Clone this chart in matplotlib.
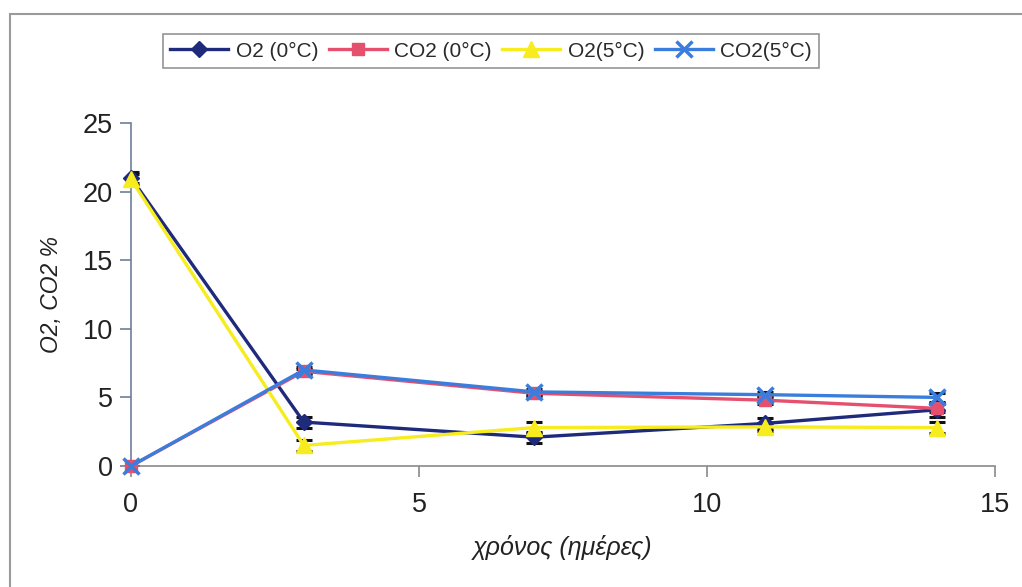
import numpy as np
import matplotlib.pyplot as plt
from matplotlib.patches import Rectangle

plt.rcParams['font.family'] = ['Liberation Sans', 'DejaVu Sans']

# ημέρες αποθήκευσης
days = [0, 3, 7, 11, 14]

# O2 και CO2 (%) στους 0 και 5 βαθμούς
o2_0 = [21.0, 3.2, 2.1, 3.1, 4.1]
co2_0 = [0.0, 6.9, 5.3, 4.8, 4.2]
o2_5 = [20.9, 1.5, 2.8, 2.85, 2.8]
co2_5 = [0.0, 7.0, 5.4, 5.2, 5.0]

# τυπικά σφάλματα
o2_0_err = [0.4, 0.4, 0.4, 0.4, 0.5]
co2_0_err = [0.0, 0.2, 0.2, 0.3, 0.3]
o2_5_err = [0.4, 0.4, 0.4, 0.3, 0.4]
co2_5_err = [0.0, 0.2, 0.2, 0.2, 0.3]

fig = plt.figure(figsize=(10.22, 5.87), dpi=100)
fig.patches.append(Rectangle((10 / 1022, -0.1), 1.2, 1.1 - 14 / 587,
                             transform=fig.transFigure, fill=False,
                             edgecolor='#9a9a9a', linewidth=1.5))

ax = fig.add_axes([131 / 1022, 121 / 587, 864 / 1022, 343 / 587])

series = [
    (o2_0, o2_0_err, '#1e2a7a', 'D', 8, 'O2 (0°C)'),
    (co2_0, co2_0_err, '#e5506f', 's', 9, 'CO2 (0°C)'),
    (o2_5, o2_5_err, '#f6ec1e', '^', 11, 'O2(5°C)'),
    (co2_5, co2_5_err, '#3a7ddc', 'x', 11, 'CO2(5°C)'),
]

handles = []
for vals, err, col, mk, ms, lab in series:
    ax.errorbar(days, vals, yerr=err, fmt='none', ecolor='#111111',
                elinewidth=1.2, capsize=6, capthick=2.2, zorder=2)
    h, = ax.plot(days, vals, color=col, marker=mk, markersize=ms,
                 linewidth=2.4, markeredgewidth=2.5 if mk == 'x' else 1,
                 markeredgecolor=col, label=lab, zorder=3, clip_on=False)
    handles.append(h)

ax.set_xlim(0, 15)
ax.set_ylim(0, 25)
ax.set_xticks([0, 5, 10, 15])
ax.set_yticks([0, 5, 10, 15, 20, 25])
for s in ['top', 'right']:
    ax.spines[s].set_visible(False)
ax.spines['left'].set_color('#6d7f99')
ax.spines['bottom'].set_color('#8a8a8a')
ax.spines['left'].set_linewidth(1.2)
ax.spines['bottom'].set_linewidth(1.2)
ax.tick_params(axis='y', direction='out', length=8, width=1.2,
               color='#6d7f99', labelsize=19.5, pad=5, labelcolor='#222222')
ax.tick_params(axis='x', direction='out', length=8, width=1.2,
               color='#8a8a8a', labelsize=19.5, pad=11, labelcolor='#222222')

ax.set_xlabel('χρόνος (ημέρες)', fontsize=18, style='italic',
              color='#222222', labelpad=12)
ax.set_ylabel('O2, CO2 %', fontsize=16.5, style='italic',
              color='#222222', labelpad=14)

leg = fig.legend(handles=handles, ncol=4, loc='center',
                 bbox_to_anchor=(491 / 1022, 1 - 51 / 587),
                 fontsize=15, frameon=True, fancybox=False,
                 handlelength=2.8, columnspacing=0.5, handletextpad=0.35,
                 borderpad=0.35, borderaxespad=0, edgecolor='#7a7a7a',
                 labelcolor='#2a2a2a')
leg.get_frame().set_linewidth(1.2)

fig.savefig('out.png', dpi=100)
